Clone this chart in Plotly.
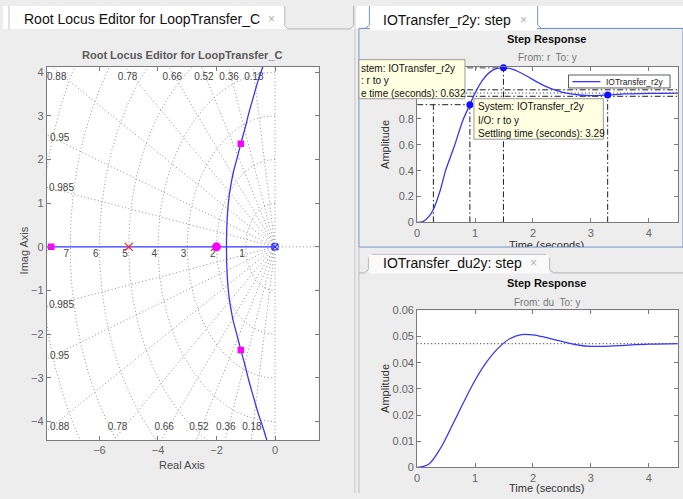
import numpy as np
import plotly.graph_objects as go

W, H = 683, 499
FONT = "Liberation Sans, Arial, sans-serif"


def X(px):
    return px / W


def Y(py):
    return 1 - py / H


# ------------------------------------------------------------------ data
# Root locus (complex branch, upper half; lower half is its mirror)
locus_re = [-1.66, -1.65, -1.62, -1.57, -1.50, -1.42, -1.30, -1.17, -1.03, -0.90, -0.74, -0.58, -0.42, -0.28]
locus_im = [0.0, 0.40, 0.80, 1.15, 1.45, 1.72, 2.02, 2.36, 2.70, 3.05, 3.43, 3.80, 4.12, 4.43]
real_locus_re = [-8.0, 0.0]
real_locus_im = [0.0, 0.0]
cl_square_re = [-7.65, -1.17, -1.17]
cl_square_im = [0.0, 2.36, -2.36]
cl_circle_re = [-2.0]
cl_circle_im = [0.0]
comp_pole_re = [-5.0]
comp_pole_im = [0.0]
plant_pole_re = [0.0]
plant_pole_im = [0.0]
damping = [0.985, 0.95, 0.88, 0.78, 0.66, 0.52, 0.36, 0.18, 0.0]
wn_list = [1, 2, 3, 4, 5, 6, 7, 8]
wn_labels = ["1", "2", "3", "4", "5", "6", "7"]
zeta_top_labels = ["0.88", "0.78", "0.66", "0.52", "0.36", "0.18"]
zeta_side_labels = ["0.95", "0.985", "0.985", "0.95"]
rl_xticks = [-6, -4, -2, 0]
rl_yticks = [-4, -3, -2, -1, 0, 1, 2, 3, 4]
rl_xrange = [-7.8, 1.49]
rl_yrange = [-4.43, 4.13]

# Step response r -> y
t_r2y = [0, 0.1, 0.2, 0.28, 0.4, 0.49, 0.57, 0.65, 0.79, 0.91, 1.0, 1.13, 1.25, 1.38, 1.49,
         1.6, 1.75, 1.9, 2.05, 2.2, 2.4, 2.6, 2.8, 3.0, 3.29, 3.6, 4.0, 4.5]
y_r2y = [0, 0.006, 0.045, 0.1, 0.25, 0.4, 0.5, 0.6, 0.79, 0.91, 1.0, 1.1, 1.16, 1.19, 1.195,
         1.19, 1.165, 1.13, 1.09, 1.055, 1.02, 0.997, 0.985, 0.98, 0.985, 0.993, 0.998, 1.0]
rise_t = [0.28, 0.91]
rise_level = 0.91
peak_t, peak_y = 1.49, 1.195
settle_t, settle_y = 3.29, 0.985
final_r2y = 1.0
band_r2y = [0.975, 1.025]
r2y_xticks = [0, 1, 2, 3, 4]
r2y_yticks = [0, 0.2, 0.4, 0.6, 0.8, 1.0, 1.2]
r2y_yticktext = ["0", "0.2", "0.4", "0.6", "0.8", "", ""]   # 1 and 1.2 hidden by the data tip

# Step response du -> y
t_du2y = [0, 0.2, 0.4, 0.6, 0.8, 1.0, 1.2, 1.4, 1.6, 1.8, 2.0, 2.2, 2.4, 2.6, 2.8, 3.0,
          3.2, 3.5, 4.0, 4.5]
y_du2y = [0, 0.0012, 0.0072, 0.0158, 0.0248, 0.0333, 0.0403, 0.0456, 0.0492, 0.0508, 0.0507,
          0.0498, 0.0487, 0.0476, 0.0467, 0.0463, 0.0463, 0.0466, 0.0471, 0.0473]
final_du2y = 0.0473
du2y_yticks = [0, 0.01, 0.02, 0.03, 0.04, 0.05, 0.06]
du2y_ticktext = ["0", "0.01", "0.02", "0.03", "0.04", "0.05", "0.06"]

# ------------------------------------------------------------------ styles
BLUE = "#3535ff"
GRIDC = "#8e8e8e"
AXC = "#7a7a7a"
TICKC = "#666666"
DOT = "1px,2.5px"
DASHDOT = "6px,2.5px,1.5px,2.5px"

fig = go.Figure()

# ---------------- root locus grid
ray_x, ray_y = [], []
R = 30.0
for z in damping:
    th = np.arccos(z)
    for s in (1, -1):
        ray_x += [0, -R * np.cos(th), None]
        ray_y += [0, s * R * np.sin(th), None]
fig.add_trace(go.Scatter(x=ray_x, y=ray_y, mode="lines", xaxis="x", yaxis="y",
                         line=dict(color=GRIDC, width=1, dash=DOT), hoverinfo="skip"))

cx, cy = [], []
phi = np.linspace(np.pi / 2, 3 * np.pi / 2, 240)
for wn in wn_list:
    cx += list(wn * np.cos(phi)) + [None]
    cy += list(wn * np.sin(phi)) + [None]
fig.add_trace(go.Scatter(x=cx, y=cy, mode="lines", xaxis="x", yaxis="y",
                         line=dict(color=GRIDC, width=1, dash=DOT), hoverinfo="skip"))
# positive real axis (dotted)
fig.add_trace(go.Scatter(x=[0, rl_xrange[1]], y=[0, 0], mode="lines", xaxis="x", yaxis="y",
                         line=dict(color=GRIDC, width=1, dash=DOT), hoverinfo="skip"))

# grid labels
fig.add_trace(go.Scatter(
    x=[-int(s) - 0.13 for s in wn_labels], y=[-0.17] * len(wn_labels), text=wn_labels,
    mode="text", xaxis="x", yaxis="y", textfont=dict(family=FONT, size=10, color="#444444"),
    hoverinfo="skip"))
top_x = [-7.46, -5.04, -3.51, -2.43, -1.57, -0.72]
bot_x = [-7.36, -5.38, -3.79, -2.60, -1.68, -0.79]
fig.add_trace(go.Scatter(
    x=top_x + bot_x + [-7.36, -7.30, -7.30, -7.36],
    y=[3.88] * 6 + [-4.13] * 6 + [2.49, 1.33, -1.35, -2.51],
    text=zeta_top_labels + zeta_top_labels + zeta_side_labels,
    mode="text", xaxis="x", yaxis="y", textfont=dict(family=FONT, size=10, color="#444444"),
    hoverinfo="skip"))

# locus branches
fig.add_trace(go.Scatter(x=real_locus_re, y=real_locus_im, mode="lines", xaxis="x", yaxis="y",
                         line=dict(color=BLUE, width=1.3), hoverinfo="skip"))
fig.add_trace(go.Scatter(x=locus_re, y=locus_im, mode="lines", xaxis="x", yaxis="y",
                         line=dict(color=BLUE, width=1.3, shape="spline"), hoverinfo="skip"))
fig.add_trace(go.Scatter(x=locus_re, y=[-v for v in locus_im], mode="lines", xaxis="x", yaxis="y",
                         line=dict(color=BLUE, width=1.3, shape="spline"), hoverinfo="skip"))

# poles
fig.add_trace(go.Scatter(x=cl_square_re, y=cl_square_im, mode="markers", xaxis="x", yaxis="y",
                         marker=dict(symbol="square", size=6.5, color="#ff00ff"), hoverinfo="skip"))
fig.add_trace(go.Scatter(x=cl_circle_re, y=cl_circle_im, mode="markers", xaxis="x", yaxis="y",
                         marker=dict(symbol="circle", size=9, color="#ff00ff"), hoverinfo="skip"))
fig.add_trace(go.Scatter(x=comp_pole_re, y=comp_pole_im, mode="markers", xaxis="x", yaxis="y",
                         marker=dict(symbol="x-thin", size=8, line=dict(color="#ff2020", width=1.2)),
                         hoverinfo="skip"))
fig.add_trace(go.Scatter(x=plant_pole_re, y=plant_pole_im, mode="markers", xaxis="x", yaxis="y",
                         marker=dict(symbol="x-thin", size=6, line=dict(color="#2020ff", width=1.2)),
                         hoverinfo="skip"))
fig.add_trace(go.Scatter(x=plant_pole_re, y=plant_pole_im, mode="markers", xaxis="x", yaxis="y",
                         marker=dict(symbol="square-open", size=6, color="#2020ff",
                                     line=dict(color="#2020ff", width=1)),
                         hoverinfo="skip"))

# ---------------- r2y step response
def seg(xs, ys, ax, ay, dash, color="#1e1e1e", width=1):
    fig.add_trace(go.Scatter(x=xs, y=ys, mode="lines", xaxis=ax, yaxis=ay,
                             line=dict(color=color, width=width, dash=dash), hoverinfo="skip"))

xmax = 4.5
# characteristic lines
seg([0, rise_t[1], None, rise_t[0], rise_t[0], None, rise_t[1], rise_t[1]],
    [rise_level, rise_level, None, 0, rise_level, None, 0, rise_level], "x2", "y2", DASHDOT)
seg([0, peak_t, None, peak_t, peak_t], [peak_y, peak_y, None, 0, peak_y], "x2", "y2", DASHDOT)
seg([settle_t, settle_t], [0, settle_y], "x2", "y2", DASHDOT)
seg([0, xmax, None, 0, xmax], [band_r2y[0], band_r2y[0], None, band_r2y[1], band_r2y[1]],
    "x2", "y2", DASHDOT)
seg([0, xmax], [final_r2y, final_r2y], "x2", "y2", DOT)
fig.add_trace(go.Scatter(x=t_r2y, y=y_r2y, mode="lines", xaxis="x2", yaxis="y2",
                         line=dict(color=BLUE, width=1.3, shape="spline", smoothing=0.8),
                         hoverinfo="skip"))
fig.add_trace(go.Scatter(x=[rise_t[1], peak_t, settle_t], y=[rise_level, peak_y, settle_y],
                         mode="markers", xaxis="x2", yaxis="y2", cliponaxis=False,
                         marker=dict(size=7, color="#1010ff"), hoverinfo="skip"))

# ---------------- du2y step response
seg([0, xmax], [final_du2y, final_du2y], "x3", "y3", DOT)
fig.add_trace(go.Scatter(x=t_du2y, y=y_du2y, mode="lines", xaxis="x3", yaxis="y3",
                         line=dict(color=BLUE, width=1.3, shape="spline", smoothing=0.9),
                         hoverinfo="skip"))

# clipped text (x-label of upper step plot, cut by panel border)
fig.add_trace(go.Scatter(x=[(546 - 357.5) / (683 - 357.5)], y=[(247 - 246) / (247 - 23)],
                         text=["Time (seconds)"], mode="text", xaxis="x4", yaxis="y4",
                         textfont=dict(family=FONT, size=11, color="#333"), hoverinfo="skip"))

# ------------------------------------------------------------------ layout
ax = dict(showgrid=False, zeroline=False, showline=True, mirror="ticks", linecolor=AXC,
          linewidth=1, ticks="inside", ticklen=4, tickcolor=AXC,
          tickfont=dict(family=FONT, size=11, color=TICKC))

layout = dict(
    width=W, height=H, autosize=False, margin=dict(l=0, r=0, t=0, b=0, pad=0),
    paper_bgcolor="#ededed", plot_bgcolor="rgba(0,0,0,0)", showlegend=False,
    xaxis=dict(ax, domain=[X(44), X(317)], range=rl_xrange, tickvals=rl_xticks, anchor="y"),
    yaxis=dict(ax, domain=[Y(445), Y(62)], range=rl_yrange, tickvals=rl_yticks, anchor="x"),
    xaxis2=dict(ax, domain=[X(416), X(677.7)], range=[0, xmax], tickvals=r2y_xticks, anchor="y2"),
    yaxis2=dict(ax, domain=[Y(221.7), Y(62.7)], range=[0, 1.2], tickvals=r2y_yticks,
                ticktext=r2y_yticktext, anchor="x2"),
    xaxis3=dict(ax, domain=[X(416), X(677.7)], range=[0, xmax], tickvals=r2y_xticks, anchor="y3"),
    yaxis3=dict(ax, domain=[Y(472.7), Y(312)], range=[0, 0.06], tickvals=du2y_yticks,
                ticktext=du2y_ticktext, anchor="x3"),
    xaxis4=dict(domain=[X(357.5), X(683)], range=[0, 1], visible=False, anchor="y4"),
    yaxis4=dict(domain=[Y(247), Y(23)], range=[0, 1], visible=False, anchor="x4"),
)

shapes = []


def rect(x0, y0, x1, y1, fill, line=None, lw=1, layer="below"):
    shapes.append(dict(type="rect", xref="paper", yref="paper", x0=X(x0), x1=X(x1), y0=Y(y1), y1=Y(y0),
                       fillcolor=fill, line=dict(color=line or "rgba(0,0,0,0)", width=lw if line else 0),
                       layer=layer))


def line(x0, y0, x1, y1, color, lw=1, layer="below"):
    shapes.append(dict(type="line", xref="paper", yref="paper", x0=X(x0), x1=X(x1), y0=Y(y0), y1=Y(y1),
                       line=dict(color=color, width=lw), layer=layer))


def path(pts, fill, color, lw=1, layer="below"):
    d = "M " + " L ".join(f"{X(a):.5f},{Y(b):.5f}" for a, b in pts)
    shapes.append(dict(type="path", xref="paper", yref="paper", path=d, fillcolor=fill,
                       line=dict(color=color, width=lw), layer=layer))


# top tab strip
rect(0, 0, 683, 23.5, "#ffffff")
# empty strip in the left window
path([(283, 0), (283, 20), (286, 23.5), (349, 23.5), (352, 20), (352, 0)], "#eeeeee", "#b5b5b5")
line(6, 0, 6, 24, "#c4c4c4")
# divider
line(353.5, 0, 353.5, 499, "#c8c8c8")
# upper right window (selected, blue frame)
BLUEFRAME = "#7196cc"
rect(357.5, 23, 683, 247, "rgba(0,0,0,0)", BLUEFRAME, 1)
rect(368.5, 20, 536.5, 25, "#ffffff")
path([(368, 0), (368, 19.5), (364, 23), (357.5, 23)], "rgba(0,0,0,0)", BLUEFRAME)
path([(537, 0), (537, 19.5), (541, 23), (683, 23)], "rgba(0,0,0,0)", BLUEFRAME)
# lower right window
line(357.5, 247, 357.5, 499, "#bdbdbd")
path([(357.5, 273.5), (363, 273.5), (367, 270), (367, 258), (371, 254.5), (545, 254.5),
      (549, 258), (549, 270), (553, 273.5), (683, 273.5)], "rgba(0,0,0,0)", "#b0b0b0")
rect(367.5, 255, 548.5, 274, "#fafafa")
# plot areas
rect(44, 62, 317, 445, "#ffffff")
rect(416, 62.7, 677.7, 221.7, "#ffffff")
rect(416, 312, 677.7, 472.7, "#ffffff")

# data tips (above the traces)
TIPFILL = "#ffffe1"
rect(357.5, 55, 464, 95, TIPFILL, "#9a9a9a", 1, "above")
rect(473, 95, 603, 136.5, TIPFILL, "#9a9a9a", 1, "above")
# legend box
rect(568, 70.7, 670, 84, "#ffffff", "#333333", 0.8, "above")
line(572, 77.5, 600, 77.5, BLUE, 1.3, "above")

layout["shapes"] = shapes

ann = []


def text(s, px, py, size=11, color="#333", bold=False, xanchor="center", angle=0, family=FONT):
    if bold:
        s = "<b>" + s + "</b>"
    ann.append(dict(text=s, x=X(px), y=Y(py), xref="paper", yref="paper", showarrow=False,
                    xanchor=xanchor, yanchor="middle", textangle=angle,
                    font=dict(family=family, size=size, color=color)))


# tabs
text("Root Locus Editor for LoopTransfer_C", 19, 13.3, 14, "#111", xanchor="left")
text("×", 270, 13, 12, "#b0b0b0")
text("IOTransfer_r2y: step", 380, 14, 14, "#111", xanchor="left")
text("×", 523, 14, 12, "#b0b0b0")
text("IOTransfer_du2y: step", 380, 263.5, 14, "#111", xanchor="left")
text("×", 532.5, 263.5, 12, "#b0b0b0")

# root locus titles
text("Root Locus Editor for LoopTransfer_C", 180.5, 50.7, 11, "#5a5a5a", bold=True)
text("Imag Axis", 21.5, 250, 11, "#4a4a4a", angle=-90)
text("Real Axis", 180, 470, 11, "#4a4a4a")

# step titles
text("Step Response", 546, 33.7, 11, "#111", bold=True)
text("From: r  To: y", 546.5, 52.7, 10, "#777")
text("Amplitude", 383, 142, 11, "#333", angle=-90)
text("Step Response", 546, 284, 11, "#111", bold=True)
text("From: du  To: y", 546.5, 303.3, 10, "#777")
text("Amplitude", 383, 392, 11, "#333", angle=-90)
text("Time (seconds)", 546, 494, 11, "#333")

# data tip texts
for s, py in [("stem: IOTransfer_r2y", 64), (": r to y", 76.5), ("e time (seconds): 0.632", 89.3)]:
    text(s, 357.5, py, 10, "#111", xanchor="left")
for s, py in [("System: IOTransfer_r2y", 103.3), ("I/O: r to y", 117.3),
              ("Settling time (seconds): 3.29", 130.7)]:
    text(s, 475.5, py, 10, "#111", xanchor="left")
text("IOTransfer_r2y", 604, 77.5, 8.5, "#222", xanchor="left")

layout["annotations"] = ann
fig.update_layout(**layout)
fig.write_html("out.html", config={"displayModeBar": False})
